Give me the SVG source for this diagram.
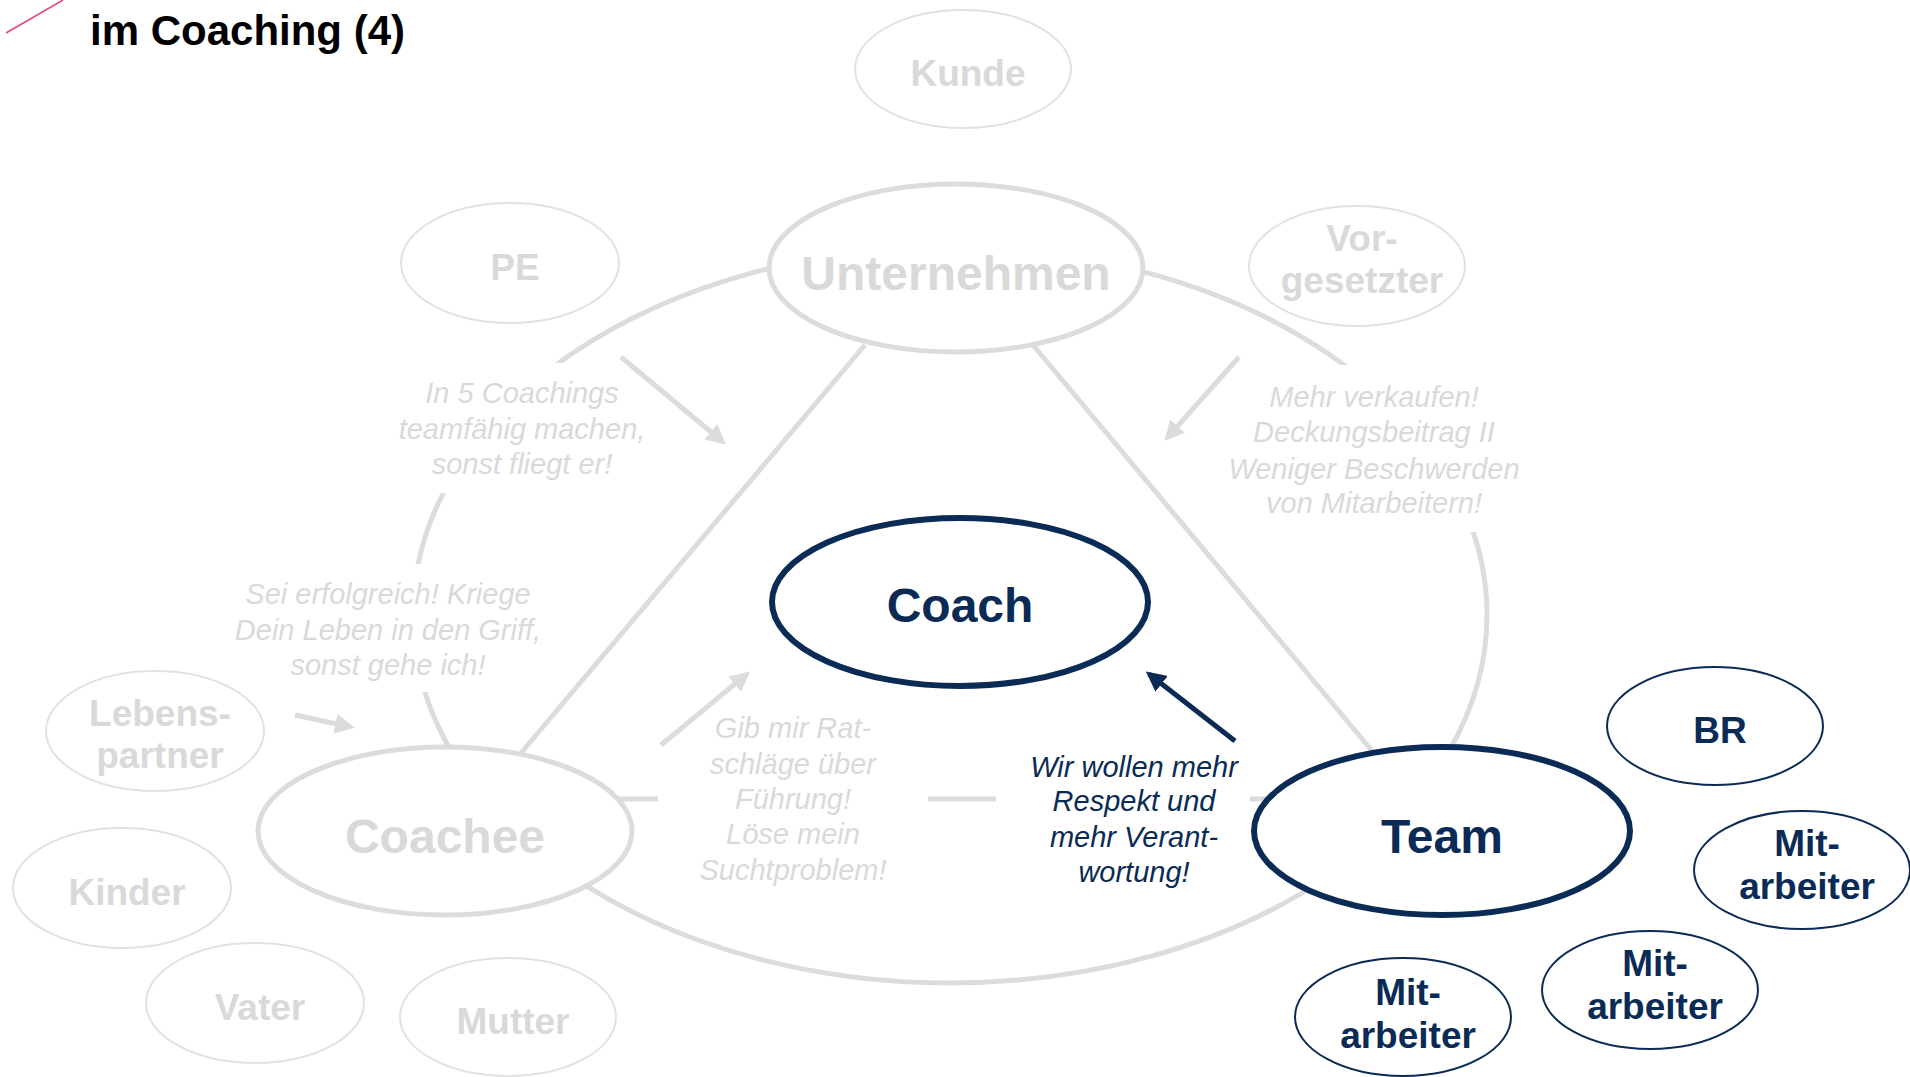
<svg xmlns="http://www.w3.org/2000/svg" width="1910" height="1077" viewBox="0 0 1910 1077">
<defs>
<style>
.bg{fill:#fff}
.gline{fill:none;stroke:#dcdcdc;stroke-width:5}
.gbig{fill:#fff;stroke:#dcdcdc;stroke-width:5}
.gsmall{fill:#fff;stroke:#e2e2e2;stroke-width:2}
.nbig{fill:#fff;stroke:#0a2b55;stroke-width:6}
.nsmall{fill:#fff;stroke:#0a2b55;stroke-width:2}
.tb{font-family:"Liberation Sans",Arial,sans-serif;font-weight:bold;text-anchor:middle}
.big{font-size:48px}
.sm{font-size:37px}
.gt{fill:#d9d9d9}
.nt{fill:#0a2b55}
.lab{font-family:"Liberation Sans",Arial,sans-serif;font-style:italic;font-size:29px;text-anchor:middle}
.white{fill:#fff}
</style>
<marker id="ga" viewBox="0 0 10 10" refX="8" refY="5" markerWidth="4" markerHeight="4" orient="auto" markerUnits="strokeWidth">
<path d="M0,0 L10,5 L0,10 z" fill="#dcdcdc"/>
</marker>
<marker id="na" viewBox="0 0 10 10" refX="8" refY="5" markerWidth="4" markerHeight="4" orient="auto" markerUnits="strokeWidth">
<path d="M0,0 L10,5 L0,10 z" fill="#0a2b55"/>
</marker>
</defs>
<rect width="1910" height="1077" class="bg"/>

<g id="title">
<line x1="6" y1="33" x2="63" y2="0" stroke="#e0457b" stroke-width="1.5"/>
<text x="90" y="45" font-family="'Liberation Sans',Arial,sans-serif" font-weight="bold" font-size="42" fill="#000">im Coaching (4)</text>
</g>

<g id="connectors">
<ellipse cx="950" cy="615" rx="537" ry="368" class="gline"/>
<line x1="865" y1="345" x2="521" y2="753" class="gline"/>
<line x1="1033" y1="345" x2="1373" y2="752" class="gline"/>
<line x1="610" y1="799" x2="1275" y2="799" class="gline"/>
</g>

<g id="label-pe">
<rect x="395" y="363" width="255" height="130" class="white"/>
<text class="lab gt"><tspan x="522" y="403">In 5 Coachings</tspan><tspan x="522" y="439">teamfähig machen,</tspan><tspan x="522" y="474">sonst fliegt er!</tspan></text>
</g>
<g id="label-partner">
<rect x="230" y="564" width="315" height="128" class="white"/>
<text class="lab gt"><tspan x="388" y="604">Sei erfolgreich! Kriege</tspan><tspan x="388" y="640">Dein Leben in den Griff,</tspan><tspan x="388" y="675">sonst gehe ich!</tspan></text>
</g>
<g id="label-vorgesetzter">
<rect x="1220" y="365" width="310" height="167" class="white"/>
<text class="lab gt"><tspan x="1374" y="407">Mehr verkaufen!</tspan><tspan x="1374" y="442">Deckungsbeitrag II</tspan><tspan x="1374" y="479">Weniger Beschwerden</tspan><tspan x="1374" y="513">von Mitarbeitern!</tspan></text>
</g>
<g id="label-coachee">
<rect x="658" y="705" width="270" height="185" class="white"/>
<text class="lab gt"><tspan x="793" y="738">Gib mir Rat-</tspan><tspan x="793" y="774">schläge über</tspan><tspan x="793" y="809">Führung!</tspan><tspan x="793" y="844">Löse mein</tspan><tspan x="793" y="880">Suchtproblem!</tspan></text>
</g>
<g id="label-team">
<rect x="996" y="745" width="254" height="145" class="white"/>
<text class="lab nt"><tspan x="1134" y="777">Wir wollen mehr</tspan><tspan x="1134" y="811">Respekt und</tspan><tspan x="1134" y="847">mehr Verant-</tspan><tspan x="1134" y="882">wortung!</tspan></text>
</g>

<g id="arrows">
<line x1="621" y1="357" x2="723" y2="442" class="gline" marker-end="url(#ga)"/>
<line x1="1239" y1="357" x2="1167" y2="438" class="gline" marker-end="url(#ga)"/>
<line x1="295" y1="715" x2="351" y2="727" class="gline" marker-end="url(#ga)"/>
<line x1="661" y1="745" x2="747" y2="674" class="gline" marker-end="url(#ga)"/>
<line x1="1235" y1="741" x2="1149" y2="674" stroke="#0a2b55" stroke-width="5" marker-end="url(#na)"/>
</g>

<g id="node-kunde"><ellipse cx="963" cy="69" rx="108" ry="59" class="gsmall"/><text x="968" y="86" class="tb sm gt">Kunde</text></g>
<g id="node-pe"><ellipse cx="510" cy="263" rx="109" ry="60" class="gsmall"/><text x="515" y="280" class="tb sm gt">PE</text></g>
<g id="node-unternehmen"><ellipse cx="956" cy="268" rx="187" ry="84" class="gbig"/><text x="956" y="290" class="tb big gt">Unternehmen</text></g>
<g id="node-vorgesetzter"><ellipse cx="1357" cy="266" rx="108" ry="60" class="gsmall"/><text class="tb sm gt"><tspan x="1362" y="251">Vor-</tspan><tspan x="1362" y="293">gesetzter</tspan></text></g>
<g id="node-coach"><ellipse cx="960" cy="602" rx="188" ry="84" class="nbig"/><text x="960" y="622" class="tb big nt">Coach</text></g>
<g id="node-coachee"><ellipse cx="445" cy="831" rx="187" ry="84" class="gbig"/><text x="445" y="853" class="tb big gt">Coachee</text></g>
<g id="node-team"><ellipse cx="1442" cy="831" rx="188" ry="84" class="nbig"/><text x="1442" y="853" class="tb big nt">Team</text></g>
<g id="node-lebenspartner"><ellipse cx="155" cy="731" rx="109" ry="60" class="gsmall"/><text class="tb sm gt"><tspan x="160" y="726">Lebens-</tspan><tspan x="160" y="768">partner</tspan></text></g>
<g id="node-kinder"><ellipse cx="122" cy="888" rx="109" ry="60" class="gsmall"/><text x="127" y="905" class="tb sm gt">Kinder</text></g>
<g id="node-vater"><ellipse cx="255" cy="1003" rx="109" ry="60" class="gsmall"/><text x="260" y="1020" class="tb sm gt">Vater</text></g>
<g id="node-mutter"><ellipse cx="508" cy="1017" rx="108" ry="59" class="gsmall"/><text x="513" y="1034" class="tb sm gt">Mutter</text></g>
<g id="node-br"><ellipse cx="1715" cy="726" rx="108" ry="59" class="nsmall"/><text x="1720" y="743" class="tb sm nt">BR</text></g>
<g id="node-mitarbeiter1"><ellipse cx="1802" cy="870" rx="108" ry="59" class="nsmall"/><text class="tb sm nt"><tspan x="1807" y="856">Mit-</tspan><tspan x="1807" y="899">arbeiter</tspan></text></g>
<g id="node-mitarbeiter2"><ellipse cx="1650" cy="990" rx="108" ry="59" class="nsmall"/><text class="tb sm nt"><tspan x="1655" y="976">Mit-</tspan><tspan x="1655" y="1019">arbeiter</tspan></text></g>
<g id="node-mitarbeiter3"><ellipse cx="1403" cy="1017" rx="108" ry="59" class="nsmall"/><text class="tb sm nt"><tspan x="1408" y="1005">Mit-</tspan><tspan x="1408" y="1048">arbeiter</tspan></text></g>
</svg>
